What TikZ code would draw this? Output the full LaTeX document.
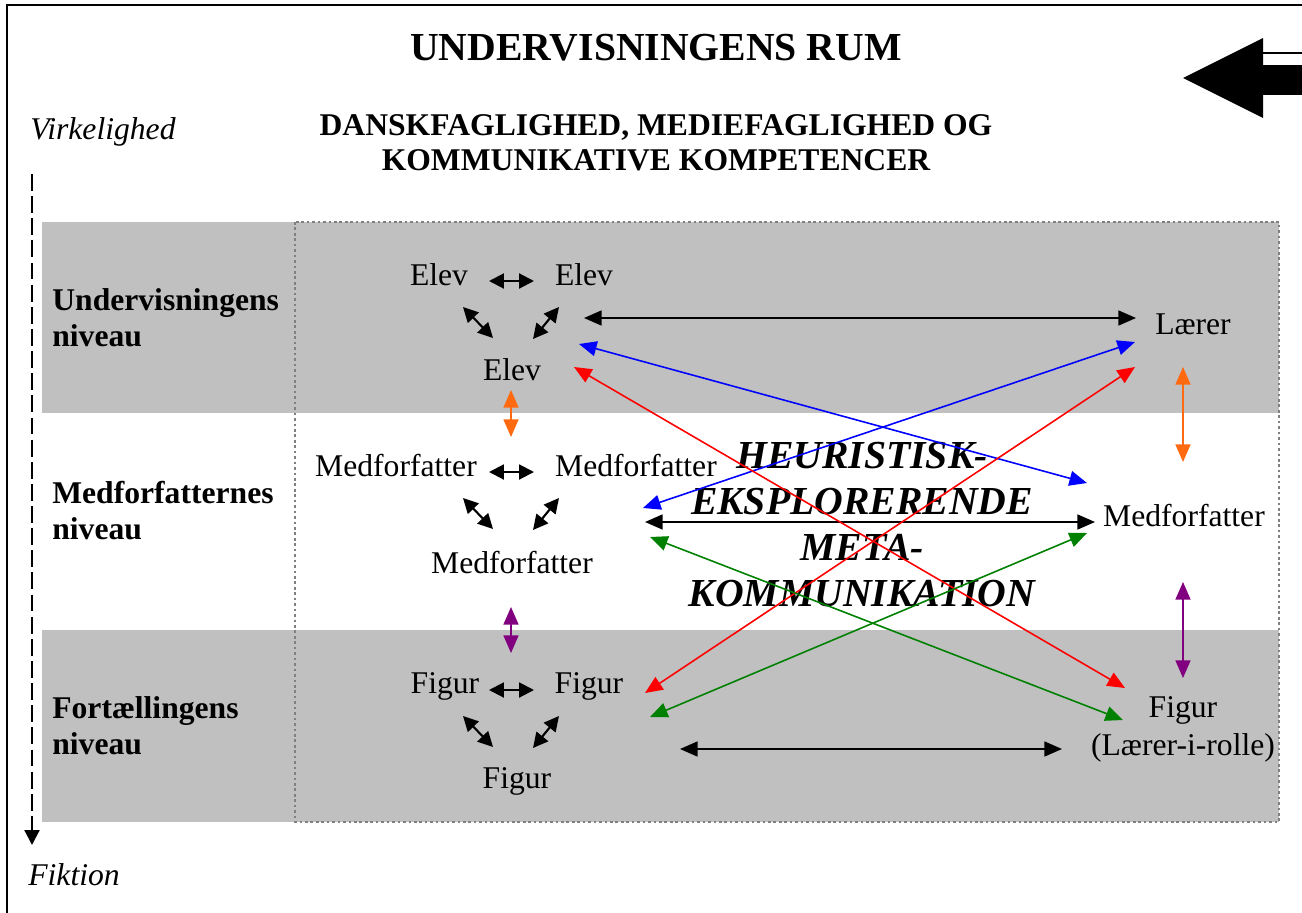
\documentclass[tikz,border=0pt]{standalone}
\usepackage{fontspec}
\setmainfont{Liberation Serif}
\usetikzlibrary{arrows.meta,calc}
\definecolor{urGray}{HTML}{C0C0C0}
\definecolor{urDot}{HTML}{808080}
\definecolor{urOrange}{HTML}{FF6A10}
\definecolor{urPurple}{HTML}{800080}
\definecolor{urGreen}{HTML}{008000}
\definecolor{urBlue}{HTML}{0000FF}
\definecolor{urRed}{HTML}{FF0000}
\tikzset{
  ur-txt/.style={font=\fontsize{18}{22}\selectfont, inner sep=0pt, anchor=base},
  ur-row/.style={font=\fontsize{18}{20.5}\selectfont\bfseries, align=left,
    inner sep=0pt, anchor=north west},
  ur-ital/.style={font=\fontsize{18}{22}\selectfont\itshape, inner sep=0pt,
    anchor=base west},
  ur-title/.style={font=\fontsize{22.6}{26}\selectfont\bfseries, inner sep=0pt},
  ur-meta/.style={font=\fontsize{22.6}{26.1}\selectfont\bfseries\itshape,
    align=center, inner sep=0pt},
  ur-dot/.style={draw=urDot, line width=1.1pt, dash pattern=on 1.5pt off 1.6pt},
  ur-axis/.style={-{Triangle[length=8.5pt,width=8.5pt]}, line width=1.2pt,
    dash pattern=on 9.6pt off 3pt},
  ur-pair/.style={{Triangle[length=8.5pt,width=8.5pt]}-{Triangle[length=8.5pt,width=8.5pt]},
    line width=1.2pt},
  ur-link/.style={{Triangle[length=10pt,width=8.5pt]}-{Triangle[length=10pt,width=8.5pt]},
    line width=0.9pt}
}
\begin{document}
\begin{tikzpicture}[x=0.02cm, y=-0.02cm]
\useasboundingbox (0,0) rectangle (1302,913);
% ramme og baand
\draw[line width=1.4pt] (7,913) -- (7,5) -- (1302,5);
\fill[urGray] (42,222) rectangle (1279,413);
\fill[urGray] (42,630) rectangle (1279,822);
\draw[ur-dot] (295,222) rectangle (1279,822);

% overskrifter
\node[ur-title, anchor=base] (title) at (656,60) {UNDERVISNINGENS RUM};
\node[ur-title, font=\fontsize{18}{20}\selectfont\bfseries, align=center,
  anchor=north] (sub) at (656,114)
  {DANSKFAGLIGHED, MEDIEFAGLIGHED OG\\KOMMUNIKATIVE KOMPETENCER};

% blokpil
\fill (1183,78) -- (1263,38) -- (1263,118) -- cycle;
\fill (1263,65) rectangle (1302,95);
\draw[line width=0.9pt] (1263,53) -- (1302,53);

% akse
\node[ur-ital] (virk) at (30,139) {Virkelighed};
\node[ur-ital] (fikt) at (28,885) {Fiktion};
\coordinate (axtop) at (32,174);
\coordinate (axbot) at (32,845);
\draw[ur-axis] (axtop) -- (axbot);

% niveauer
\node[ur-row] (niv1) at (52,288) {Undervisningens\\niveau};
\node[ur-row] (niv2) at (52,481) {Medforfatternes\\niveau};
\node[ur-row] (niv3) at (52,696) {Fortællingens\\niveau};

% trekanter
\node[ur-txt] (e1) at (439,285) {Elev};
\node[ur-txt] (e2) at (584,285) {Elev};
\node[ur-txt] (e3) at (512,380) {Elev};
\node[ur-txt] (m1) at (396,476) {Medforfatter};
\node[ur-txt] (m2) at (636,476) {Medforfatter};
\node[ur-txt] (m3) at (512,573) {Medforfatter};
\node[ur-txt] (f1) at (445,693) {Figur};
\node[ur-txt] (f2) at (589,693) {Figur};
\node[ur-txt] (f3) at (517,788) {Figur};

% hoejre kolonne
\node[ur-txt] (lar) at (1193,334) {Lærer};
\node[ur-txt] (mr) at (1184,526) {Medforfatter};
\node[ur-txt, anchor=north, align=center] (fr) at (1183,696)
  {Figur\\(Lærer-i-rolle)};

\node[ur-meta, anchor=north] (meta) at (862,442)
  {HEURISTISK-\\EKSPLORERENDE\\META-\\KOMMUNIKATION};

% pile i trekanterne
\foreach \lv/\y in {1/281,2/472,3/690} {
  \coordinate (hub\lv) at (511,\y);
  \draw[ur-pair] ($(hub\lv)+(-22,0)$) -- ($(hub\lv)+(23,0)$);
  \draw[ur-pair] ($(hub\lv)+(-48,26)$) -- ($(hub\lv)+(-18,57)$);
  \draw[ur-pair] ($(hub\lv)+(48,26)$) -- ($(hub\lv)+(22,58)$);
}

% forbindelsespunkter
\coordinate (eA) at (584,318);
\coordinate (eB) at (579,344);
\coordinate (eC) at (574,367);
\coordinate (lA) at (1136,318);
\coordinate (lB) at (1135,342);
\coordinate (lC) at (1135,367);
\coordinate (mlB) at (643,508);
\coordinate (mlA) at (645,522);
\coordinate (mlC) at (650,537);
\coordinate (mrB) at (1087,483);
\coordinate (mrA) at (1095,522);
\coordinate (mrC) at (1087,533);
\coordinate (flR) at (645,693);
\coordinate (flG) at (650,717);
\coordinate (flA) at (680,749);
\coordinate (frR) at (1125,688);
\coordinate (frG) at (1123,720);
\coordinate (frA) at (1062,749);

\draw[ur-link, line width=1pt] (eA) -- (lA);
\draw[ur-link, line width=1pt] (mlA) -- (mrA);
\draw[ur-link, line width=1pt] (flA) -- (frA);
\draw[ur-link, urBlue] (eB) -- (mrB);
\draw[ur-link, urBlue] (lB) -- (mlB);
\draw[ur-link, urRed] (eC) -- (frR);
\draw[ur-link, urRed] (lC) -- (flR);
\draw[ur-link, urGreen] (mlC) -- (frG);
\draw[ur-link, urGreen] (mrC) -- (flG);

% lodrette pile
\coordinate (o1a) at (511,390);
\coordinate (o1b) at (511,437);
\coordinate (o2a) at (1183,367);
\coordinate (o2b) at (1183,462);
\coordinate (p1a) at (511,607);
\coordinate (p1b) at (511,653);
\coordinate (p2a) at (1183,582);
\coordinate (p2b) at (1183,678);
\draw[ur-link, urOrange] (o1a) -- (o1b);
\draw[ur-link, urOrange] (o2a) -- (o2b);
\draw[ur-link, urPurple] (p1a) -- (p1b);
\draw[ur-link, urPurple] (p2a) -- (p2b);
\end{tikzpicture}
\end{document}
